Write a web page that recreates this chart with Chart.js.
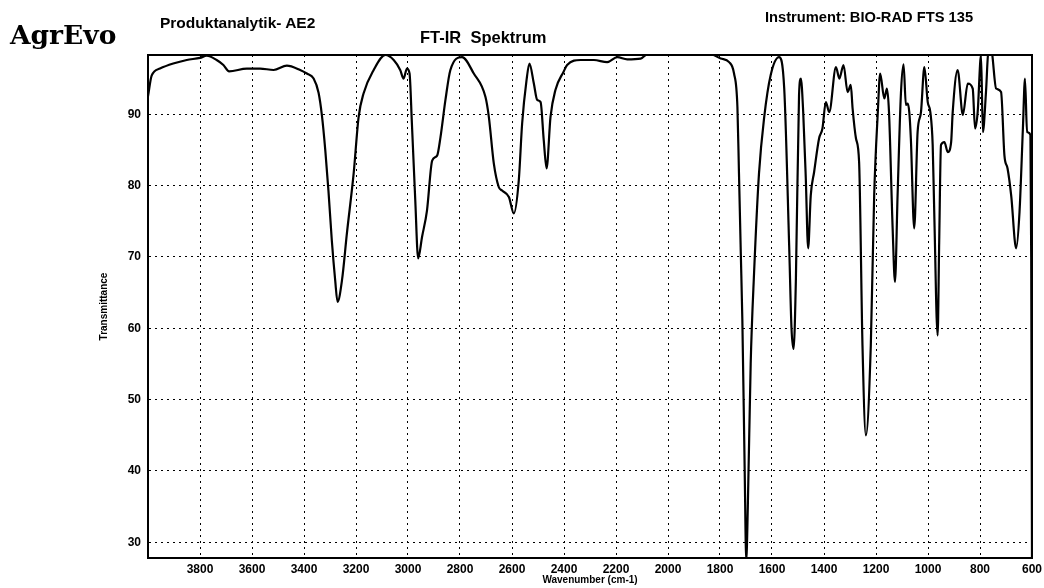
<!DOCTYPE html>
<html>
<head>
<meta charset="utf-8">
<script src="https://cdn.jsdelivr.net/npm/chart.js@4.4.1/dist/chart.umd.min.js"></script>
<style>
  html, body { margin: 0; padding: 0; background: #fff; }
  #wrap { position: relative; width: 1044px; height: 588px; overflow: hidden; background: #fff; }
  canvas { position: absolute; left: 0; top: 0; }
  .hdr { position: absolute; white-space: pre; color: #000; line-height: 1; }
  #logo { left: 10px; top: 19px; font: bold 26.5px "DejaVu Serif", serif; }
  #lab { left: 160px; top: 14px; font: bold 15.5px "Liberation Sans", Arial, sans-serif; }
  #ttl { left: 420px; top: 28px; font: bold 16.5px "Liberation Sans", Arial, sans-serif; }
  #ins { left: 765px; top: 9px; font: bold 14.7px "Liberation Sans", Arial, sans-serif; }
</style>
</head>
<body>
<div id="wrap">
  <canvas id="c" width="1044" height="588"></canvas>
  <div class="hdr" id="logo">AgrEvo</div>
  <div class="hdr" id="lab">Produktanalytik- AE2</div>
  <div class="hdr" id="ttl">FT-IR  Spektrum</div>
  <div class="hdr" id="ins">Instrument: BIO-RAD FTS 135</div>
</div>
<script>
const wavenumbers = [4000, 3986, 3954, 3903, 3851, 3800, 3774, 3736, 3710, 3688, 3620, 3569, 3517, 3466, 3415, 3389, 3363, 3344, 3331, 3318, 3306, 3293, 3280, 3271, 3254, 3235, 3209, 3190, 3171, 3132, 3087, 3055, 3030, 3017, 3004, 2994, 2985, 2972, 2961, 2946, 2927, 2907, 2888, 2875, 2856, 2837, 2792, 2747, 2702, 2689, 2670, 2651, 2638, 2612, 2593, 2574, 2561, 2544, 2533, 2516, 2503, 2490, 2478, 2467, 2452, 2433, 2401, 2388, 2336, 2285, 2234, 2195, 2157, 2105, 2080, 2002, 1951, 1900, 1848, 1797, 1765, 1746, 1733, 1727, 1720, 1714, 1705, 1699, 1693, 1682, 1669, 1650, 1630, 1605, 1573, 1553, 1534, 1525, 1517, 1508, 1496, 1489, 1480, 1470, 1461, 1451, 1438, 1419, 1406, 1393, 1380, 1354, 1341, 1325, 1309, 1297, 1290, 1277, 1265, 1252, 1239, 1220, 1207, 1193, 1184, 1168, 1158, 1150, 1136, 1127, 1117, 1104, 1094, 1085, 1078, 1072, 1066, 1053, 1040, 1027, 1014, 1001, 991, 982, 976, 963, 957, 950, 937, 924, 911, 905, 886, 866, 847, 828, 819, 809, 796, 789, 777, 768, 757, 738, 719, 706, 694, 680, 661, 648, 635, 627, 619, 606, 603, 600];
const transmittance = [92.5, 95.4, 96.4, 97.1, 97.6, 97.9, 98.2, 97.6, 96.9, 96.0, 96.4, 96.4, 96.2, 96.8, 96.2, 95.7, 95.0, 93.0, 89.8, 84.9, 79.3, 72.3, 66.7, 63.7, 66.7, 73.3, 81.7, 89.6, 92.9, 96.2, 98.3, 97.6, 96.2, 95.0, 96.4, 95.7, 88.7, 77.9, 69.8, 72.8, 76.5, 83.5, 84.2, 86.8, 92.0, 96.2, 98.0, 95.7, 92.4, 89.6, 83.1, 79.8, 79.3, 78.4, 76.1, 80.7, 88.7, 94.8, 97.1, 94.3, 92.0, 91.7, 86.4, 82.4, 89.6, 93.4, 96.0, 96.9, 97.6, 97.6, 97.3, 98.0, 97.7, 97.8, 98.4, 98.4, 98.4, 98.6, 98.6, 97.8, 97.3, 95.7, 91.0, 81.7, 70.5, 61.1, 40.0, 27.5, 35.0, 55.0, 67.7, 81.7, 89.6, 95.5, 98.0, 93.6, 71.6, 60.0, 57.1, 67.0, 92.7, 95.0, 90.3, 81.0, 71.2, 78.6, 81.9, 86.6, 88.0, 91.7, 90.3, 96.6, 95.0, 96.9, 93.1, 94.1, 90.8, 86.6, 83.3, 57.6, 45.0, 57.6, 78.6, 90.3, 95.7, 92.2, 93.6, 90.3, 74.0, 66.5, 78.6, 93.0, 97.0, 91.3, 91.5, 90.3, 86.6, 74.0, 87.5, 90.3, 96.6, 91.7, 90.3, 85.7, 76.3, 59.0, 72.0, 85.7, 86.1, 84.7, 86.1, 90.3, 96.2, 89.9, 94.3, 93.6, 88.0, 90.3, 98.3, 87.5, 93.1, 98.7, 99.0, 93.6, 93.1, 84.2, 82.4, 78.6, 71.2, 76.3, 88.0, 95.0, 87.5, 87.1, 70.0, 27.5];
const xTicks = [3800, 3600, 3400, 3200, 3000, 2800, 2600, 2400, 2200, 2000, 1800, 1600, 1400, 1200, 1000, 800, 600];
const yTicks = [30, 40, 50, 60, 70, 80, 90];
const xRange = [600, 4000];
const yRange = [27.8, 98.3];
const xTitle = 'Wavenumber (cm-1)';
const yTitle = 'Transmittance';

const points = wavenumbers.map((w, i) => ({ x: w, y: transmittance[i] }));

const frame = {
  id: 'frame',
  afterDraw(chart) {
    const { ctx, chartArea: a } = chart;
    ctx.save();
    ctx.strokeStyle = '#000';
    ctx.lineWidth = 2;
    ctx.setLineDash([]);
    ctx.strokeRect(a.left, a.top, a.right - a.left, a.bottom - a.top);
    ctx.restore();
  }
};

const tickFont = { family: '"Liberation Sans", Arial, sans-serif', size: 12, weight: 'bold' };
const titleFont = { family: '"Liberation Sans", Arial, sans-serif', size: 10, weight: 'bold' };

new Chart(document.getElementById('c'), {
  type: 'line',
  data: {
    datasets: [{
      data: points,
      borderColor: '#000',
      borderWidth: 2.2,
      pointRadius: 0,
      cubicInterpolationMode: 'monotone',
      fill: false
    }]
  },
  options: {
    responsive: false,
    animation: false,
    devicePixelRatio: 1,
    layout: { padding: { top: 55, right: 12, left: 0, bottom: 0 } },
    plugins: { legend: { display: false }, tooltip: { enabled: false } },
    scales: {
      x: {
        type: 'linear',
        reverse: true,
        min: xRange[0],
        max: xRange[1],
        afterBuildTicks: s => { s.ticks = xTicks.map(v => ({ value: v })); },
        afterFit: s => { s.height = 30; s.paddingLeft = 0; s.paddingRight = 0; },
        ticks: { color: '#000', font: tickFont, padding: 4, maxRotation: 0, autoSkip: false, callback: v => String(v) },
        grid: { color: '#000', lineWidth: 1, drawTicks: false },
        border: { display: true, color: '#000', width: 2, dash: [2, 4] },
        title: { display: true, text: xTitle, color: '#000', font: titleFont, padding: { top: 0, bottom: 2 } }
      },
      y: {
        type: 'linear',
        min: yRange[0],
        max: yRange[1],
        afterBuildTicks: s => { s.ticks = yTicks.map(v => ({ value: v })); },
        afterFit: s => { s.width = 148; s.paddingTop = 0; s.paddingBottom = 0; },
        ticks: { color: '#000', font: tickFont, padding: 7, callback: v => String(v) },
        grid: { color: '#000', lineWidth: 1, drawTicks: false },
        border: { display: true, color: '#000', width: 2, dash: [2, 4] },
        title: { display: true, text: yTitle, color: '#000', font: titleFont, padding: { top: 98, bottom: 0 } }
      }
    }
  },
  plugins: [frame]
});
</script>
</body>
</html>
